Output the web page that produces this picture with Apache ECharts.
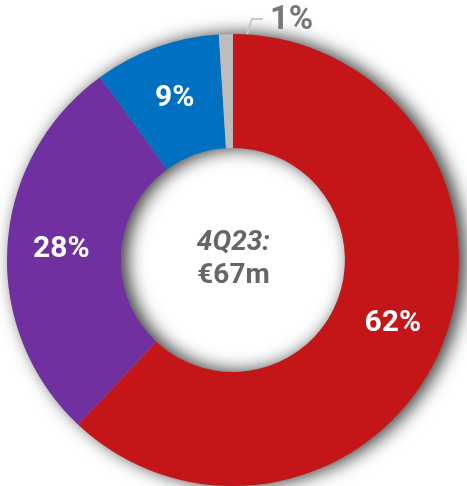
<!DOCTYPE html>
<html><head><meta charset="utf-8">
<script src="https://cdn.jsdelivr.net/npm/echarts@6/dist/echarts.min.js"></script>
<style>html,body{margin:0;padding:0;background:#fff}#c{width:467px;height:486px}</style>
</head><body><div id="c"></div>
<script>
const categories = ['A', 'B', 'C', 'D'];
const values = [62, 28, 9, 1];
const colors = ['#C41518', '#7030A0', '#0070C0', '#BDBDBD'];
const centerLines = ['4Q23:', '€67m'];

const chart = echarts.init(document.getElementById('c'), null, {renderer: 'canvas'});
const CENTER = [233, 260];
const RADIUS = [112, 226];

chart.setOption({
  backgroundColor: '#fff',
  animation: false,
  title: {
    text: '{a|' + centerLines[0] + '}\n{b|' + centerLines[1] + '}',
    left: 'center', top: 221,
    textStyle: {
      rich: {
        a: {fontFamily: 'Roboto', fontWeight: 'bold', fontStyle: 'italic', fontSize: 28, color: '#666', lineHeight: 33, align: 'center'},
        b: {fontFamily: 'Roboto', fontWeight: 'bold', fontSize: 28, color: '#666', lineHeight: 33, align: 'center'}
      }
    }
  },
  series: [
    {
      type: 'pie', silent: true, center: CENTER, radius: RADIUS, z: 1,
      label: {show: false}, labelLine: {show: false},
      itemStyle: {color: '#999', shadowBlur: 18, shadowColor: 'rgba(0,0,0,0.8)', shadowOffsetX: 6, shadowOffsetY: 0},
      data: [{value: 1}]
    },
    {
      type: 'pie', center: CENTER, radius: RADIUS, z: 2,
      startAngle: 90, clockwise: true, avoidLabelOverlap: false,
      itemStyle: {borderWidth: 0},
      label: {
        show: true, position: 'inside', formatter: '{c}%',
        fontFamily: 'Roboto', fontWeight: 'bold', fontSize: 30, color: '#fff'
      },
      labelLine: {show: false},
      labelLayout: function (p) {
        if (p.dataIndex !== 3 || !p.labelLinePoints) return {};
        const s = p.labelLinePoints[0];
        const a = [s[0] + 7, s[1] + 45];
        const b = [s[0] + 26, s[1] - 15];
        const c = [s[0] + 37, s[1] - 15];
        return {x: c[0] + 7, y: c[1] + 2, align: 'left', verticalAlign: 'middle', labelLinePoints: [a, b, c]};
      },
      data: values.map((v, i) => {
        const d = {name: categories[i], value: v, itemStyle: {color: colors[i]}};
        if (i === 3) {
          d.label = {position: 'outside', color: '#777', fontSize: 33};
          d.labelLine = {show: true, length: 20, length2: 10, lineStyle: {color: '#C8C8C8', width: 2}};
        }
        return d;
      })
    }
  ]
});
</script></body></html>
